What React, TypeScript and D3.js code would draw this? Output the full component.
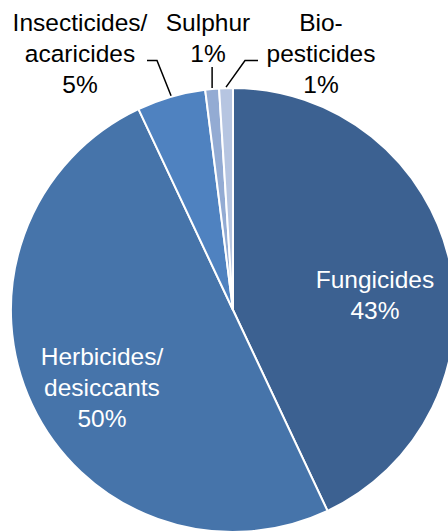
import React from "react";
import * as d3 from "d3";

// Share of plant protection products by type (%)
const categories = ["Fungicides", "Herbicides/ desiccants", "Insecticides/ acaricides", "Sulphur", "Bio- pesticides"];
const shares = [43, 50, 5, 1, 1];
const colors = ["#3c6191", "#4674aa", "#4f82c0", "#93abd3", "#b6c5e1"];

// label lines per slice (text shown on each line, last line is the percentage)
const labelLines = [
  ["Fungicides"],
  ["Herbicides/", "desiccants"],
  ["Insecticides/", "acaricides"],
  ["Sulphur"],
  ["Bio-", "pesticides"],
];

const W = 448;
const H = 532;
const cx = 233;
const cy = 310;
const R = 222;
const FONT = "'Liberation Sans', Arial, sans-serif";
const FS = 24.5;
const LH = 31.2;

// label anchor: centre x, first baseline y, text colour
const labelLayout = [
  { x: 375, y: 287.5, fill: "#ffffff" },
  { x: 102, y: 365, fill: "#ffffff" },
  { x: 80, y: 31, fill: "#000000" },
  { x: 208, y: 31, fill: "#000000" },
  { x: 321, y: 31, fill: "#000000" },
];

// leader line start points and elbow x (null = straight)
const leaders: Record<number, { sx: number; sy: number; ex: number | null }> = {
  2: { sx: 147, sy: 60.5, ex: 157 },
  3: { sx: 217, sy: 67, ex: null },
  4: { sx: 258, sy: 60.5, ex: 245 },
};

export default function App() {
  const pie = d3
    .pie<number>()
    .sort(null)
    .value((d) => d)
    .startAngle(0)
    .endAngle(2 * Math.PI);
  const arcs = pie(shares);
  const arc = d3.arc<d3.PieArcDatum<number>>().innerRadius(0).outerRadius(R);

  return (
    <svg
      width={W}
      height={H}
      style={{ position: "absolute", left: 0, top: 0, background: "#fff" }}
      fontFamily={FONT}
    >
      <g transform={`translate(${cx},${cy})`}>
        {arcs.map((a, i) => (
          <path key={categories[i]} d={arc(a) || ""} fill={colors[i]} stroke="#ffffff" strokeWidth={2} strokeLinejoin="round" />
        ))}
      </g>
      {arcs.map((a, i) => {
        const l = leaders[i];
        if (!l) return null;
        const mid = (a.startAngle + a.endAngle) / 2;
        const px = cx + R * Math.sin(mid);
        const py = cy - R * Math.cos(mid) - 1;
        const pts = l.ex === null ? [[px, l.sy], [px, py]] : [[l.sx, l.sy], [l.ex, l.sy], [px, py]];
        return (
          <polyline
            key={"leader" + i}
            points={pts.map((p) => p.join(",")).join(" ")}
            fill="none"
            stroke="#000"
            strokeWidth={1.5}
          />
        );
      })}
      {labelLayout.map((p, i) => {
        const lines = [...labelLines[i], `${shares[i]}%`];
        return (
          <text key={"label" + i} textAnchor="middle" fontSize={FS} fill={p.fill}>
            {lines.map((t, j) => (
              <tspan key={j} x={p.x} y={p.y + j * LH}>
                {t}
              </tspan>
            ))}
          </text>
        );
      })}
    </svg>
  );
}
